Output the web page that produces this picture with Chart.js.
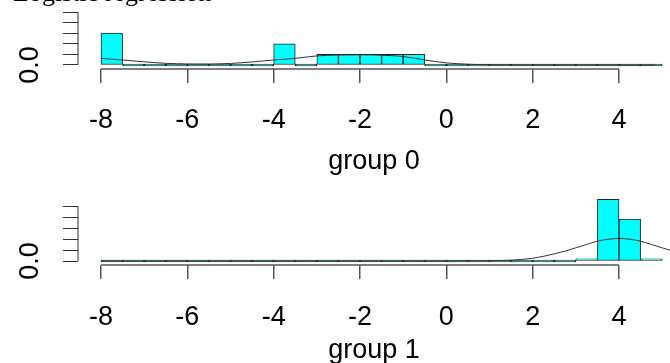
<!DOCTYPE html>
<html>
<head>
<meta charset="UTF-8">
<title>Logistic regression</title>
<script src="https://cdn.jsdelivr.net/npm/chart.js"></script>
<style>
  body { margin: 0; background: #fff; }
  canvas { position: absolute; left: 0; }
  #top { top: 0; }
  #bottom { top: 190px; }
</style>
</head>
<body>
<canvas id="top" width="670" height="190"></canvas>
<canvas id="bottom" width="670" height="173"></canvas>
<script>
// histogram bins, 0.5 wide, from -8 to 5 (centres)
var binCentres = [-7.75, -7.25, -6.75, -6.25, -5.75, -5.25, -4.75, -4.25, -3.75, -3.25,
                  -2.75, -2.25, -1.75, -1.25, -0.75, -0.25, 0.25, 0.75, 1.25, 1.75,
                  2.25, 2.75, 3.25, 3.75, 4.25, 4.75];

// density of each bin
var group0Density = [0.6, 0, 0, 0, 0, 0, 0, 0, 0.4, 0,
                     0.2, 0.2, 0.2, 0.2, 0.2, 0, 0, 0, 0, 0,
                     0, 0, 0, 0, 0, 0];
var group1Density = [0, 0, 0, 0, 0, 0, 0, 0, 0, 0,
                     0, 0, 0, 0, 0, 0, 0, 0, 0, 0,
                     0, 0, 0.04, 1.12, 0.76, 0.04];

// density curves
var curve0X = [-8, -7.5, -7, -6.5, -6, -5.5, -5, -4.5, -4, -3.5, -3, -2.5, -2, -1.5, -1, -0.5, 0, 0.5, 1, 1.5, 2, 3, 4, 4.84];
var curve0Y = [0.126, 0.094, 0.06, 0.032, 0.02, 0.018, 0.03, 0.058, 0.094, 0.125, 0.172, 0.188, 0.192, 0.185, 0.16, 0.095, 0.04, 0.015, 0.005, 0.001, 0, 0, 0, 0];
var curve1X = [-8, -4, 0, 0.5, 1, 1.5, 1.75, 2, 2.25, 2.5, 2.75, 3, 3.25, 3.5, 3.75, 4, 4.25, 4.5, 4.75, 5, 5.25];
var curve1Y = [0, 0, 0, 0.002, 0.005, 0.015, 0.028, 0.05, 0.085, 0.13, 0.18, 0.24, 0.30, 0.36, 0.395, 0.41, 0.395, 0.36, 0.30, 0.24, 0.18];

var xTicks = [-8, -6, -4, -2, 0, 2, 4];
var yTicks = [0, 0.2, 0.4, 0.6, 0.8, 1.0];

// R style axis lines: only from first to last tick
var rAxes = {
    id: 'rAxes',
    afterDraw: function(chart) {
        var ctx = chart.ctx, area = chart.chartArea, x = chart.scales.x, y = chart.scales.y;
        ctx.save();
        ctx.strokeStyle = '#555';
        ctx.lineWidth = 1.5;
        ctx.beginPath();
        ctx.moveTo(x.getPixelForValue(xTicks[0]), area.bottom);
        ctx.lineTo(x.getPixelForValue(xTicks[xTicks.length - 1]), area.bottom);
        ctx.stroke();
        ctx.strokeStyle = '#333';
        ctx.lineWidth = 1;
        ctx.beginPath();
        ctx.moveTo(area.left, y.getPixelForValue(yTicks[0]));
        ctx.lineTo(area.left, y.getPixelForValue(yTicks[yTicks.length - 1]));
        ctx.stroke();
        ctx.restore();
    }
};

function histChart(id, density, cx, cy, o) {
    return new Chart(document.getElementById(id), {
        type: 'bar',
        data: {
            datasets: [{
                type: 'line',
                data: cx.map(function(v, i) { return {x: v, y: cy[i]}; }),
                borderColor: '#333',
                borderWidth: 1,
                pointRadius: 0,
                cubicInterpolationMode: 'monotone',
                fill: false
            }, {
                type: 'bar',
                data: binCentres.map(function(v, i) { return {x: v, y: density[i]}; }),
                backgroundColor: '#00FFFF',
                borderColor: '#222',
                borderWidth: 1,
                borderSkipped: false,
                barPercentage: 1,
                categoryPercentage: 1,
                minBarLength: 2
            }]
        },
        options: {
            responsive: false,
            animation: false,
            devicePixelRatio: 1,
            layout: { padding: { left: 13, top: o.padTop, right: 0, bottom: 0 } },
            plugins: {
                legend: { display: false },
                tooltip: { enabled: false },
                title: {
                    display: !!o.main,
                    text: o.main || '',
                    align: 'start',
                    color: '#000',
                    font: { family: 'Liberation Serif', size: 26, weight: 'normal', lineHeight: 1 },
                    padding: { top: -19, bottom: 5 }
                }
            },
            scales: {
                x: {
                    type: 'linear',
                    min: -8.533,
                    max: 5.181,
                    offset: false,
                    afterBuildTicks: function(s) { s.ticks = xTicks.map(function(v) { return {value: v}; }); },
                    afterFit: function(s) { s.height = o.xHeight; s.paddingLeft = 0; s.paddingRight = 0; },
                    grid: { drawOnChartArea: false, offset: false, tickLength: 14, color: '#555', lineWidth: 1.5 },
                    border: { display: false },
                    ticks: {
                        autoSkip: false, maxRotation: 0, padding: o.labelPad, color: '#000',
                        font: { family: 'Liberation Sans', size: 27 }
                    },
                    title: {
                        display: true, text: o.xTitle, color: '#000',
                        font: { family: 'Liberation Sans', size: 27, lineHeight: 1 },
                        padding: { top: 0, bottom: o.titlePad }
                    }
                },
                y: {
                    type: 'linear',
                    min: o.yMin,
                    max: o.yMax,
                    afterBuildTicks: function(s) { s.ticks = yTicks.map(function(v) { return {value: v}; }); },
                    afterFit: function(s) { s.width = 65; s.paddingTop = 0; s.paddingBottom = 0; },
                    grid: { drawOnChartArea: false, tickLength: 15, color: '#333', lineWidth: 1 },
                    border: { display: false },
                    ticks: {
                        autoSkip: false, minRotation: 90, maxRotation: 90, crossAlign: 'center',
                        padding: 14, color: '#000',
                        font: { family: 'Liberation Sans', size: 27 },
                        callback: function(v) { return v === 0 ? '0.0' : ''; }
                    }
                }
            }
        },
        plugins: [rAxes]
    });
}

histChart('top', group0Density, curve0X, curve0Y, {
    main: 'Logistic regression', xTitle: 'group 0', padTop: 0,
    yMin: -0.0755, yMax: 1.0, xHeight: 121, labelPad: 21, titlePad: 14.5
});
histChart('bottom', group1Density, curve1X, curve1Y, {
    main: '', xTitle: 'group 1', padTop: 5,
    yMin: -0.0727, yMax: 1.2, xHeight: 98, labelPad: 22, titlePad: -1.5
});
</script>
</body>
</html>
